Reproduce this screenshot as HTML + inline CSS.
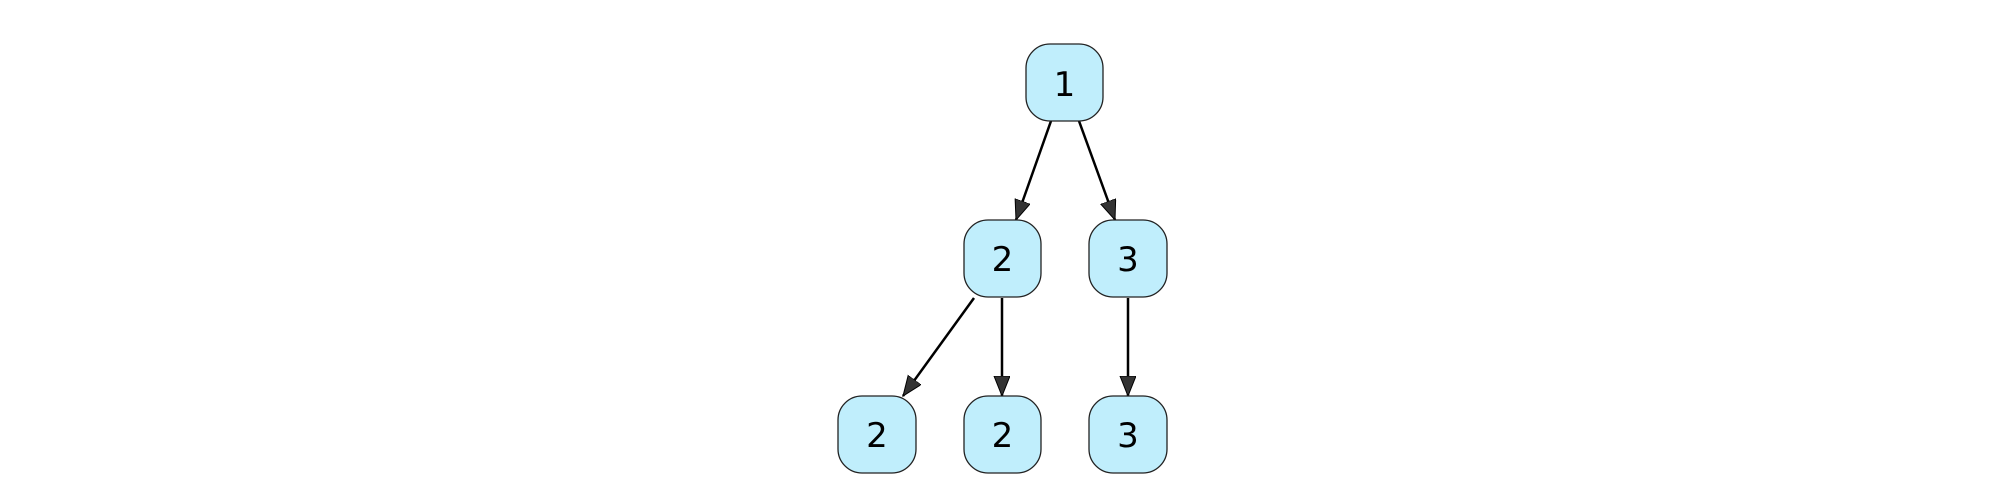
<!DOCTYPE html>
<html><head><meta charset="utf-8"><style>
html,body{margin:0;padding:0;background:#fff;}
svg{display:block;}
text{font-family:"DejaVu Sans","Liberation Sans",sans-serif;font-size:34px;fill:#000;font-weight:500;}
</style></head><body>
<svg width="2012" height="492" viewBox="0 0 2012 492" xmlns="http://www.w3.org/2000/svg">
<defs>
<marker id="a" markerUnits="userSpaceOnUse" markerWidth="24" markerHeight="20" refX="20" refY="8" orient="auto">
<path d="M0,0 L20,8 L0,16 Z" fill="#333" stroke="#000" stroke-width="1"/>
</marker>
</defs>
<g stroke="#000" stroke-width="2.5" fill="none">
<line x1="1051" y1="121" x2="1016" y2="220" marker-end="url(#a)"/>
<line x1="1079" y1="121" x2="1115" y2="220" marker-end="url(#a)"/>
<line x1="974" y1="298" x2="903" y2="396" marker-end="url(#a)"/>
<line x1="1002" y1="298" x2="1002" y2="396" marker-end="url(#a)"/>
<line x1="1128" y1="298" x2="1128" y2="396" marker-end="url(#a)"/>
</g>
<g fill="#c0eefc" stroke="#222" stroke-width="1.3">
<rect x="1026" y="44" width="77" height="77" rx="24"/>
<rect x="964" y="220" width="77" height="77" rx="24"/>
<rect x="1089" y="220" width="78" height="77" rx="24"/>
<rect x="838" y="396" width="78" height="77" rx="24"/>
<rect x="964" y="396" width="77" height="77" rx="24"/>
<rect x="1089" y="396" width="78" height="77" rx="24"/>
</g>
<g text-anchor="middle">
<text x="1064.5" y="96">1</text>
<text x="1002.5" y="271">2</text>
<text x="1128" y="271">3</text>
<text x="877" y="447">2</text>
<text x="1002.5" y="447">2</text>
<text x="1128" y="447">3</text>
</g>
</svg>
</body></html>
